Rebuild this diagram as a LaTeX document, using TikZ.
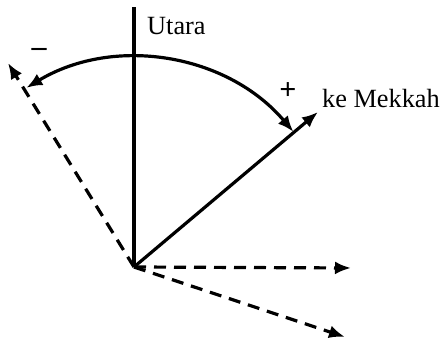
\documentclass[tikz,border=0pt]{standalone}
\usepackage{fontspec}
\setmainfont{Liberation Serif}
\usetikzlibrary{arrows.meta}
\begin{document}
\begin{tikzpicture}[x=1pt,y=1pt,
  ln/.style={line width=3.2pt},
  arr/.style={ln,-{Latex[length=16pt,width=13pt]}},
  dsh/.style={arr,dash pattern=on 12pt off 8pt},
  lbl/.style={font=\fontsize{26.3}{29}\selectfont,inner sep=0pt}]
\useasboundingbox (0,0) rectangle (445,342);
\coordinate (O) at (134,75);
\coordinate (N) at (134,335);
\coordinate (M) at (318,230);
\coordinate (L) at (8,279);
\coordinate (H) at (351,74);
\coordinate (D) at (345,5);
\draw[ln] (O) -- (N);
\draw[arr] (O) -- (M);
\draw[dsh] (O) -- (L);
\draw[dsh] (O) -- (H);
\draw[dsh] (O) -- (D);
\draw[ln,{Latex[length=16pt,width=13pt]}-{Latex[length=16pt,width=13pt]}] ([shift={(121:209)}]O) arc[start angle=121,end angle=40.3,radius=209];
\node[lbl,anchor=base west] (ut) at (147,307) {Utara};
\node[lbl,anchor=base west] (mk) at (322,234) {ke Mekkah};
\node[font=\fontsize{30}{32}\selectfont\bfseries,inner sep=0pt] (mi) at (39,290) {–};
\node[font=\fontsize{30}{32}\selectfont\bfseries,inner sep=0pt] (pl) at (288,251) {+};
\end{tikzpicture}
\end{document}
